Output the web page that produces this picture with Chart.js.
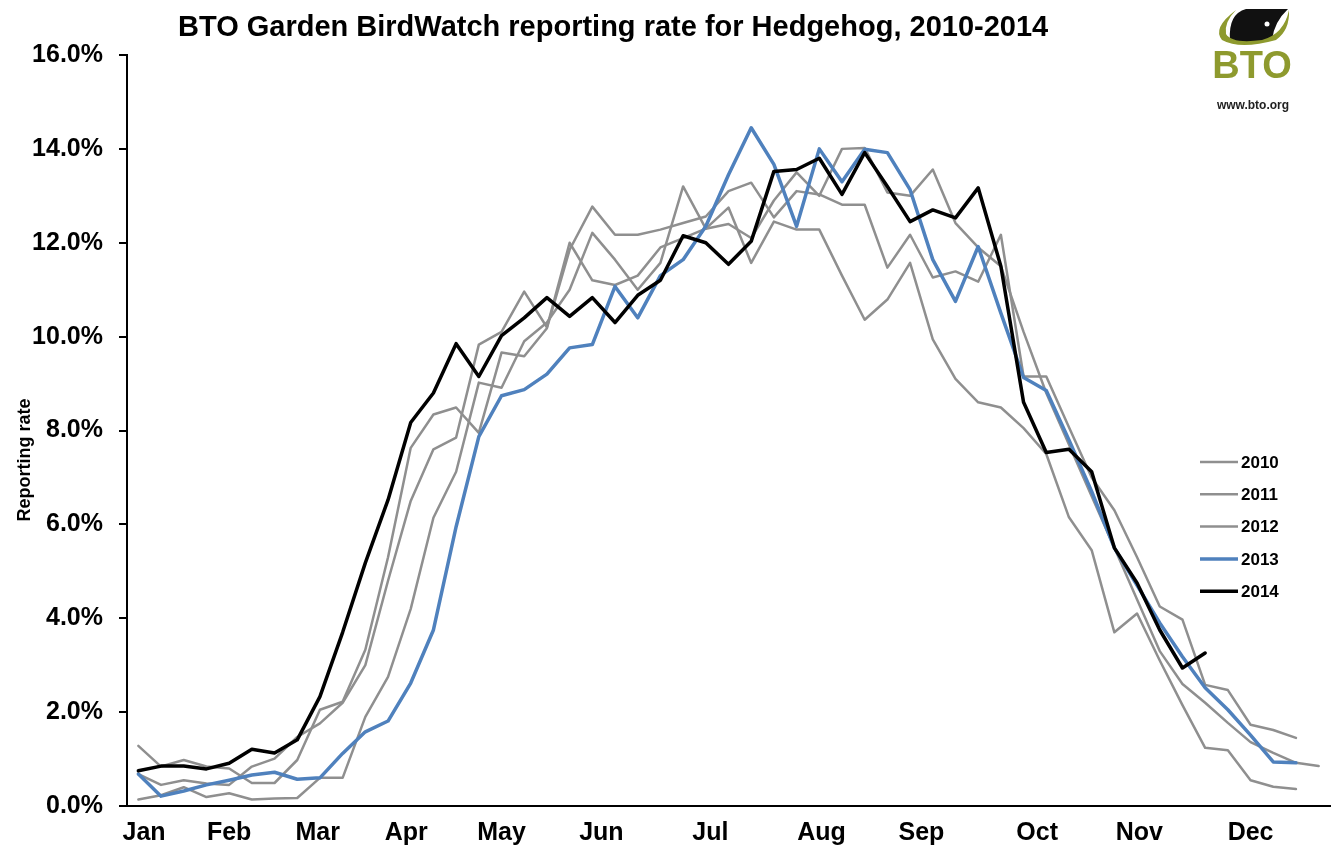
<!DOCTYPE html>
<html>
<head>
<meta charset="utf-8">
<title>BTO Garden BirdWatch - Hedgehog</title>
<script src="https://cdn.jsdelivr.net/npm/chart.js@4.4.1/dist/chart.umd.min.js"></script>
<style>
  html, body { margin: 0; padding: 0; background: #fff; }
  #wrap { width: 1335px; height: 846px; position: relative; }
</style>
</head>
<body>
<div id="wrap"><canvas id="chart"></canvas></div>
<script>
// weekly reporting rate (%), week index 0 = first week of January
const years = ["2010", "2011", "2012", "2013", "2014"];

const rate2010 = [0.68, 0.45, 0.55, 0.48, 0.45, 0.84, 1.01, 1.47, 1.76, 2.2, 3.0, 4.8, 6.5, 7.6, 7.85, 9.83,
  10.1, 10.96, 10.2, 12.0, 11.2, 11.1, 11.3, 11.9, 12.1, 12.3, 12.4, 12.1, 12.9, 13.5, 13.0, 14.0, 14.02,
  13.07, 13.0, 13.56, 12.42, 11.9, 11.5, 10.1, 8.8, 7.7, 6.6, 5.5, 4.4, 3.3, 2.6, 2.2, 1.77, 1.36, 1.13, 0.92, 0.85];

const rate2011 = [1.28, 0.84, 0.98, 0.84, 0.8, 0.49, 0.49, 0.98, 2.05, 2.22, 3.33, 5.3, 7.63, 8.34, 8.49, 7.95,
  9.66, 9.58, 10.18, 11.85, 12.77, 12.17, 12.17, 12.28, 12.42, 12.56, 13.1, 13.28, 12.54, 13.1, 13.03, 12.81,
  12.81, 11.47, 12.17, 11.26, 11.39, 11.17, 12.17, 9.15, 9.15, 8.07, 7.0, 6.3, 5.3, 4.25, 3.97, 2.58, 2.47,
  1.73, 1.62, 1.45];

const rate2012 = [0.14, 0.23, 0.4, 0.19, 0.27, 0.14, 0.16, 0.17, 0.6, 0.6, 1.9, 2.75, 4.2, 6.14, 7.12, 9.02,
  8.91, 9.9, 10.3, 11.0, 12.21, 11.64, 11.0, 11.57, 13.2, 12.3, 12.75, 11.57, 12.45, 12.28, 12.28, 11.3,
  10.36, 10.79, 11.57, 9.94, 9.1, 8.6, 8.49, 8.05, 7.5, 6.15, 5.45, 3.7, 4.1, 3.1, 2.15, 1.24, 1.19, 0.55,
  0.41, 0.36];

const rate2013 = [0.68, 0.21, 0.32, 0.45, 0.55, 0.66, 0.72, 0.57, 0.6, 1.12, 1.58, 1.81, 2.62, 3.75, 5.95, 7.87,
  8.74, 8.87, 9.2, 9.76, 9.83, 11.07, 10.4, 11.3, 11.64, 12.35, 13.45, 14.45, 13.67, 12.35, 14.0, 13.3,
  13.99, 13.92, 13.13, 11.64, 10.75, 11.92, 10.5, 9.13, 8.85, 7.8, 6.7, 5.5, 4.7, 3.9, 3.18, 2.52, 2.05,
  1.51, 0.94, 0.92];

const rate2014 = [0.75, 0.85, 0.85, 0.79, 0.91, 1.21, 1.13, 1.41, 2.33, 3.7, 5.18, 6.52, 8.17, 8.8, 9.85, 9.15,
  10.02, 10.4, 10.83, 10.43, 10.83, 10.3, 10.88, 11.2, 12.15, 12.0, 11.54, 12.03, 13.52, 13.56, 13.8, 13.03,
  13.92, 13.2, 12.45, 12.7, 12.53, 13.17, 11.5, 8.6, 7.53, 7.6, 7.12, 5.5, 4.75, 3.75, 2.94, 3.26];

// month labels and the week they sit under
const months = ["Jan", "Feb", "Mar", "Apr", "May", "Jun", "Jul", "Aug", "Sep", "Oct", "Nov", "Dec"];
const monthWeek = [0.25, 4.0, 7.9, 11.8, 16.0, 20.4, 25.2, 30.1, 34.5, 39.6, 44.1, 49.0];

const TITLE = "BTO Garden BirdWatch reporting rate for Hedgehog, 2010-2014";
const FONT = "'Liberation Sans', Arial, sans-serif";
const GREY = "#8f8f8f";

function pts(arr) { return arr.map((v, i) => ({ x: i, y: v })); }

const series = [rate2010, rate2011, rate2012, rate2013, rate2014];
const styles = [
  { color: GREY, width: 2.5, order: 2 },
  { color: GREY, width: 2.5, order: 2 },
  { color: GREY, width: 2.5, order: 2 },
  { color: "#4f81bd", width: 3.5, order: 1 },
  { color: "#000000", width: 3.5, order: 0 }
];

const datasets = years.map((y, k) => ({
  label: y,
  data: pts(series[k]),
  borderColor: styles[k].color,
  borderWidth: styles[k].width,
  order: styles[k].order,
  pointRadius: 0,
  tension: 0,
  fill: false,
  borderJoinStyle: "round",
  borderCapStyle: "round"
}));

// title, axis title, legend and logo
const decor = {
  id: "decor",
  afterDraw(chart) {
    const ctx = chart.ctx;
    ctx.save();

    ctx.fillStyle = "#000";
    ctx.textAlign = "left";
    ctx.textBaseline = "alphabetic";
    ctx.font = "bold 29px " + FONT;
    ctx.fillText(TITLE, 178, 36, 872);

    // y axis title
    ctx.save();
    ctx.translate(30, 460);
    ctx.rotate(-Math.PI / 2);
    ctx.textAlign = "center";
    ctx.font = "bold 18px " + FONT;
    ctx.fillText("Reporting rate", 0, 0);
    ctx.restore();

    // legend
    ctx.font = "bold 17px " + FONT;
    ctx.textBaseline = "middle";
    chart.data.datasets.forEach((ds, k) => {
      const y = 462 + k * 32.3;
      ctx.strokeStyle = ds.borderColor;
      ctx.lineWidth = ds.borderWidth;
      ctx.beginPath();
      ctx.moveTo(1200, y);
      ctx.lineTo(1238, y);
      ctx.stroke();
      ctx.fillStyle = "#000";
      ctx.fillText(ds.label, 1241, y + 1);
    });

    // BTO logo
    const olive = "#8e9a2e";
    ctx.fillStyle = "#111";
    ctx.beginPath();
    ctx.moveTo(1230, 40);
    ctx.quadraticCurveTo(1228, 14, 1246, 9);
    ctx.lineTo(1288, 9);
    ctx.quadraticCurveTo(1274, 22, 1272, 40);
    ctx.quadraticCurveTo(1250, 46, 1230, 40);
    ctx.closePath();
    ctx.fill();
    ctx.fillStyle = "#fff";
    ctx.beginPath();
    ctx.arc(1267, 24, 2.5, 0, Math.PI * 2);
    ctx.fill();

    ctx.fillStyle = olive;
    ctx.beginPath();
    ctx.moveTo(1236, 10);
    ctx.quadraticCurveTo(1212, 28, 1222, 40);
    ctx.quadraticCurveTo(1240, 50, 1276, 40);
    ctx.quadraticCurveTo(1290, 30, 1289, 10);
    ctx.quadraticCurveTo(1284, 34, 1262, 40);
    ctx.quadraticCurveTo(1232, 44, 1226, 34);
    ctx.quadraticCurveTo(1224, 22, 1236, 10);
    ctx.closePath();
    ctx.fill();

    ctx.textAlign = "center";
    ctx.textBaseline = "alphabetic";
    ctx.font = "bold 38px " + FONT;
    ctx.fillText("BTO", 1252, 78);
    ctx.fillStyle = "#222";
    ctx.font = "bold 12px " + FONT;
    ctx.fillText("www.bto.org", 1253, 109);

    ctx.restore();
  }
};

new Chart(document.getElementById("chart"), {
  type: "line",
  data: { datasets },
  options: {
    responsive: true,
    maintainAspectRatio: false,
    animation: false,
    layout: { padding: { top: 55, right: 5, bottom: 0, left: 0 } },
    plugins: {
      legend: { display: false },
      title: { display: false },
      tooltip: { enabled: false }
    },
    scales: {
      x: {
        type: "linear",
        min: -0.5,
        max: 52.5,
        grid: { display: false },
        border: { display: true, color: "#000", width: 2 },
        afterBuildTicks: axis => { axis.ticks = monthWeek.map(v => ({ value: v })); },
        afterFit: axis => { axis.height = 40; },
        ticks: {
          autoSkip: false,
          maxRotation: 0,
          padding: 4,
          color: "#000",
          font: { family: FONT, size: 25, weight: "bold" },
          callback: (v, i) => months[i]
        }
      },
      y: {
        min: 0,
        max: 16,
        afterFit: axis => { axis.width = 127; },
        grid: {
          drawOnChartArea: false,
          drawTicks: true,
          tickLength: 8,
          color: "#000",
          lineWidth: 2
        },
        border: { display: true, color: "#000", width: 2 },
        ticks: {
          stepSize: 2,
          padding: 16,
          color: "#000",
          font: { family: FONT, size: 25, weight: "bold" },
          callback: v => v.toFixed(1) + "%"
        }
      }
    }
  },
  plugins: [decor]
});
</script>
</body>
</html>
